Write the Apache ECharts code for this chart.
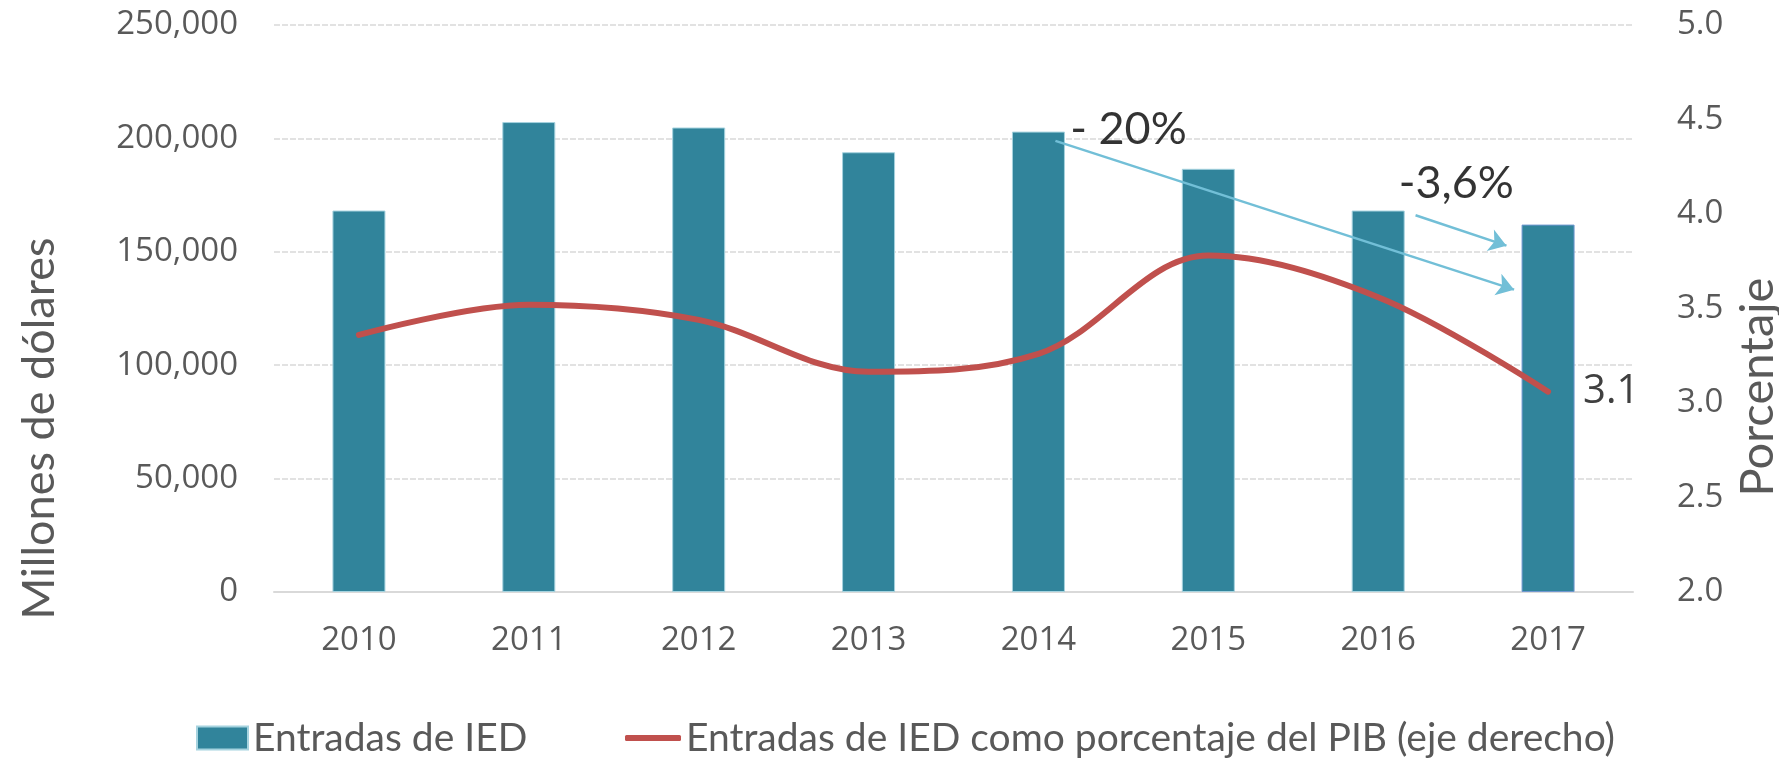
<!DOCTYPE html>
<html>
<head>
<meta charset="utf-8">
<title>Entradas de IED</title>
<script src="https://cdn.jsdelivr.net/npm/echarts@6/dist/echarts.min.js"></script>
<style>
  html, body { margin: 0; padding: 0; background: #fff; }
  #chart { width: 1779px; height: 758px; }
</style>
</head>
<body>
<div id="chart"></div>
<script>
// valores
var years = ['2010', '2011', '2012', '2013', '2014', '2015', '2016', '2017'];
var iedFlows = [168200, 207200, 204800, 193900, 203000, 186600, 168200, 162000];
var iedPctGdp = [3.36, 3.52, 3.44, 3.165, 3.26, 3.78, 3.56, 3.06];

// anotaciones (x = indice de año, y = millones de dolares)
var noteLabels = ['- 20%', '-3,6%'];
var notePoints = [[4.53, 203800], [6.46, 180000]];
var arrowStarts = [[4.10, 198900], [6.22, 166100]];
var arrowEnds = [[6.80, 133300], [6.755, 152700]];

var gray = '#595959';

function thousands(v) {
  return String(v).replace(/\B(?=(\d{3})+(?!\d))/g, ',');
}

var chart = echarts.init(document.getElementById('chart'));

var legendText = { fontFamily: 'Lato', fontSize: 39, color: gray, lineHeight: 46 };

var option = {
  animation: false,
  grid: { left: 274, right: 146, top: 25, bottom: 166, outerBoundsMode: 'none' },
  legend: [
    {
      data: ['Entradas de IED'],
      left: 196, top: 715, padding: 0,
      icon: 'rect', itemWidth: 51, itemHeight: 23,
      textStyle: legendText
    },
    {
      data: ['Entradas de IED como porcentaje del PIB (eje derecho)'],
      left: 625, top: 715, padding: 0,
      icon: 'roundRect', itemWidth: 56, itemHeight: 6,
      textStyle: legendText
    }
  ],
  xAxis: [
    {
      type: 'category',
      data: years,
      axisTick: { show: false },
      axisLine: { lineStyle: { color: '#d9d9d9', width: 2 } },
      axisLabel: { margin: 32, fontFamily: 'Open Sans', fontSize: 33, color: gray }
    },
    // eje oculto para ubicar flechas y textos
    { type: 'value', min: -0.5, max: 7.5, show: false }
  ],
  yAxis: [
    {
      type: 'value', position: 'left',
      min: 0, max: 250000, interval: 50000,
      name: 'Millones de dólares',
      nameLocation: 'middle', nameGap: 212,
      nameTextStyle: { fontFamily: 'Lato', fontSize: 45, color: gray, padding: [0, 240, 0, 0] },
      axisLine: { show: false },
      axisTick: { show: false },
      axisLabel: { margin: 36, fontFamily: 'Open Sans', fontSize: 33, color: gray, formatter: thousands },
      splitLine: { lineStyle: { color: '#d9d9d9', width: 1.5, type: [6, 2] } }
    },
    {
      type: 'value', position: 'right',
      min: 2, max: 5, interval: 0.5,
      name: 'Porcentaje',
      nameLocation: 'middle', nameGap: 93,
      nameTextStyle: { fontFamily: 'Lato', fontSize: 47, color: gray, padding: [0, 157, 0, 0] },
      axisLine: { show: false },
      axisTick: { show: false },
      axisLabel: {
        margin: 44, fontFamily: 'Open Sans', fontSize: 33, color: gray,
        formatter: function (v) { return v.toFixed(1); }
      },
      splitLine: { show: false }
    }
  ],
  series: [
    {
      name: 'Entradas de IED',
      type: 'bar',
      barWidth: 53,
      itemStyle: { color: '#31849b', borderColor: '#a6d3df', borderWidth: 1 },
      data: iedFlows.map(function (v, i) {
        return i === iedFlows.length - 1 ? { value: v, itemStyle: { borderColor: '#7098d0' } } : v;
      })
    },
    {
      name: 'Entradas de IED como porcentaje del PIB (eje derecho)',
      type: 'line',
      yAxisIndex: 1,
      smooth: 0.35,
      symbol: 'none',
      itemStyle: { color: '#c0504d' },
      lineStyle: { color: '#c0504d', width: 6, cap: 'round' },
      endLabel: {
        show: true, distance: 35,
        fontFamily: 'Open Sans', fontSize: 40, color: '#404040',
        formatter: function (p) { return p.value.toFixed(1); }
      },
      z: 3,
      data: iedPctGdp
    },
    {
      type: 'lines',
      coordinateSystem: 'cartesian2d',
      xAxisIndex: 1, yAxisIndex: 0,
      symbol: ['none', 'arrow'],
      symbolSize: [14, 17],
      lineStyle: { color: '#72bfd7', width: 2.5, opacity: 1, curveness: 0 },
      silent: true,
      z: 4,
      data: arrowStarts.map(function (s, i) { return { coords: [s, arrowEnds[i]] }; })
    },
    {
      type: 'scatter',
      xAxisIndex: 1, yAxisIndex: 0,
      symbolSize: 0,
      silent: true,
      z: 5,
      label: {
        show: true, position: 'inside', formatter: '{b}',
        fontFamily: 'Lato', fontSize: 45, color: '#000'
      },
      data: notePoints.map(function (p, i) { return { name: noteLabels[i], value: p }; })
    }
  ]
};

chart.setOption(option);
</script>
</body>
</html>
